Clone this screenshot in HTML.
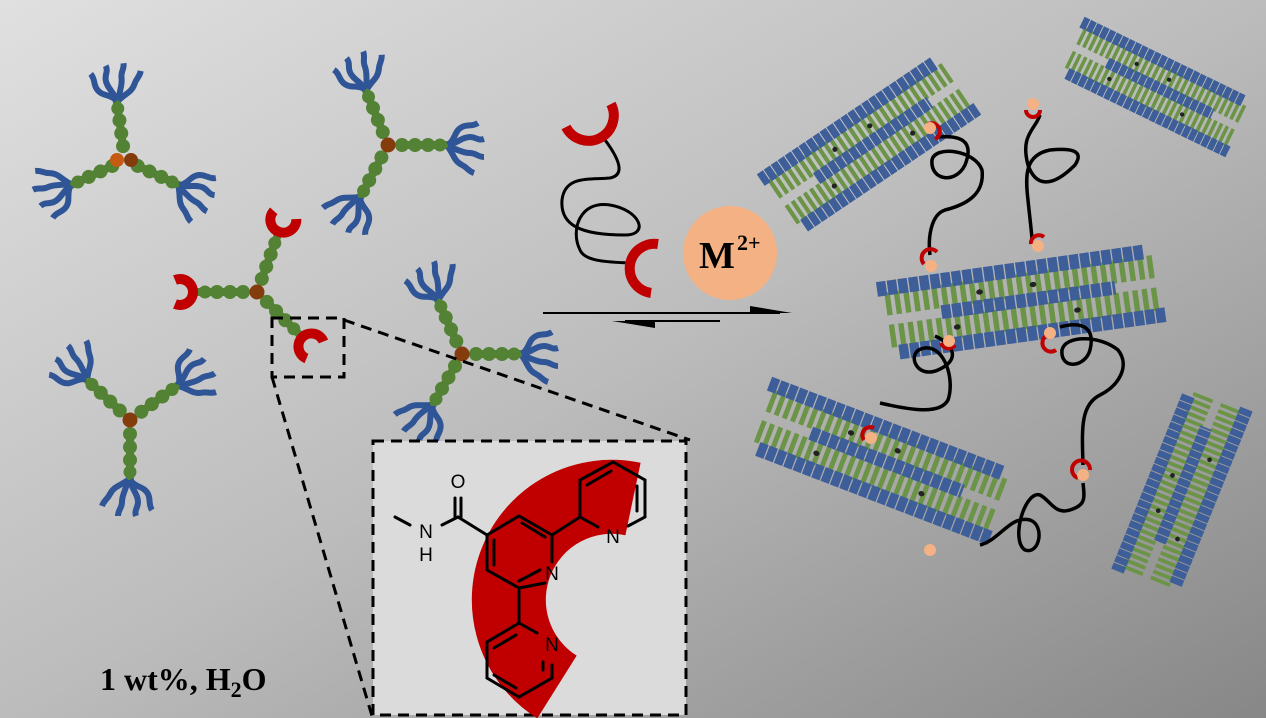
<!DOCTYPE html>
<html><head><meta charset="utf-8"><style>
html,body{margin:0;padding:0;}
body{width:1266px;height:718px;overflow:hidden;}
svg{display:block;}
</style></head><body>
<svg width="1266" height="718" viewBox="0 0 1266 718" xmlns="http://www.w3.org/2000/svg">
<defs>
<linearGradient id="bg" x1="0" y1="0" x2="1" y2="1">
<stop offset="0" stop-color="#e0e0e0"/>
<stop offset="0.5" stop-color="#bcbcbc"/>
<stop offset="1" stop-color="#878787"/>
</linearGradient>
<g id="dots">
<circle cx="14" cy="0" r="7" fill="#548235"/>
<circle cx="27" cy="0" r="7" fill="#548235"/>
<circle cx="40" cy="0" r="7" fill="#548235"/>
<circle cx="52" cy="0" r="6.5" fill="#548235"/>
<line x1="10" y1="0" x2="66" y2="0" stroke="#548235" stroke-width="8"/>
</g>
<g id="tuft" fill="none" stroke="#2f5597" stroke-width="6" stroke-linecap="butt">
<path d="M60,0 C68,-6 66,-14 74,-18 C80,-21 84,-18 90,-22"/>
<path d="M60,0 C70,-2 74,-8 82,-8 C88,-8 90,-4 96,-6"/>
<path d="M60,2 C70,4 74,8 82,8 C88,8 90,12 96,12"/>
<path d="M60,2 C66,10 66,16 74,20 C80,23 80,26 86,28"/>
</g>
<g id="arm"><use href="#dots"/><use href="#tuft"/></g>
<g id="cuparm"><use href="#dots"/>
<path d="M82,12 A13,13 0 1 1 82,-12" fill="none" stroke="#c00000" stroke-width="10"/></g>
<g id="fiber">
<line x1="-100" y1="-17" x2="100" y2="-17" stroke="#6b9446" stroke-width="22" stroke-dasharray="4 3"/>
<line x1="-100" y1="14" x2="100" y2="14" stroke="#6b9446" stroke-width="22" stroke-dasharray="4 3"/>
<line x1="-105" y1="-32" x2="95" y2="-32" stroke="#3d5e99" stroke-width="14" stroke-dasharray="7 1"/>
<line x1="-60" y1="-2" x2="70" y2="-2" stroke="#3d5e99" stroke-width="13" stroke-dasharray="7 1"/>
<line x1="-95" y1="30" x2="105" y2="30" stroke="#3d5e99" stroke-width="14" stroke-dasharray="7 1"/>
<circle cx="-30" cy="-16" r="2.5" fill="#222"/><circle cx="10" cy="-16" r="2.5" fill="#222"/>
<circle cx="40" cy="14" r="2.5" fill="#222"/><circle cx="-50" cy="14" r="2.5" fill="#222"/>
</g>
</defs>
<rect width="1266" height="718" fill="url(#bg)"/>

<!-- star 1 -->
<g transform="translate(125,160)">
<g transform="rotate(-98)"><use href="#arm"/></g>
<g transform="rotate(155)"><use href="#arm"/></g>
<g transform="rotate(25)"><use href="#arm"/></g>
<circle cx="-8" cy="0" r="7" fill="#c55a11"/><circle cx="6" cy="0" r="7" fill="#843c0c"/>
</g>
<!-- star 2 -->
<g transform="translate(388,145)">
<g transform="rotate(-112)"><use href="#arm"/></g>
<g transform="rotate(0)"><use href="#arm"/></g>
<g transform="rotate(118)"><use href="#arm"/></g>
<circle r="7.5" fill="#843c0c"/>
</g>
<!-- star red -->
<g transform="translate(257,292)">
<g transform="rotate(-70)"><use href="#cuparm"/></g>
<g transform="rotate(180)"><use href="#cuparm"/></g>
<g transform="rotate(45)"><use href="#cuparm"/></g>
<circle r="7.5" fill="#843c0c"/>
</g>
<!-- star 4 -->
<g transform="translate(130,420)">
<g transform="rotate(-137)"><use href="#arm"/></g>
<g transform="rotate(-36)"><use href="#arm"/></g>
<g transform="rotate(90)"><use href="#arm"/></g>
<circle r="7.5" fill="#843c0c"/>
</g>
<!-- star 5 -->
<g transform="translate(462,354)">
<g transform="rotate(-114)"><use href="#arm"/></g>
<g transform="rotate(0)"><use href="#arm"/></g>
<g transform="rotate(120)"><use href="#arm"/></g>
<circle r="7.5" fill="#843c0c"/>
</g>

<!-- zoom dashed -->
<g fill="none" stroke="#000" stroke-width="3" stroke-dasharray="11 7">
<rect x="272" y="318" width="72" height="59"/>
<line x1="344" y1="320" x2="690" y2="440"/>
<line x1="272" y1="377" x2="372" y2="716"/>
</g>
<rect x="373" y="441" width="313" height="274" fill="#dbdbdb" stroke="#000" stroke-width="3" stroke-dasharray="11 7"/>

<!-- inset -->
<path d="M633,499 A103,103 0 0 0 557,687" fill="none" stroke="#c00000" stroke-width="74"/>
<g stroke="#000" stroke-width="3" fill="none" stroke-linecap="round">
<polyline points="487,535 519,516 552,535"/>
<line x1="552" y1="535" x2="552" y2="562"/>
<polyline points="545,583 519,588 487,570 487,535"/>
<line x1="522" y1="523" x2="545" y2="537"/>
<line x1="494" y1="540" x2="494" y2="565"/>
<line x1="519" y1="581" x2="540" y2="570"/>
<line x1="552" y1="535" x2="580" y2="517"/>
<polyline points="580,517 580,480 613,462 645,480 645,517 628,526"/>
<line x1="580" y1="517" x2="598" y2="527"/>
<line x1="587" y1="485" x2="611" y2="471"/>
<line x1="637" y1="486" x2="637" y2="511"/>
<line x1="519" y1="588" x2="519" y2="623"/>
<polyline points="519,623 487,642 487,678 519,697 552,678 552,665"/>
<line x1="519" y1="623" x2="537" y2="633"/>
<line x1="494" y1="648" x2="516" y2="635"/>
<line x1="494" y1="675" x2="516" y2="688"/>
<line x1="543" y1="662" x2="543" y2="670"/>
<line x1="487" y1="535" x2="458" y2="517"/>
<line x1="455" y1="517" x2="455" y2="498"/><line x1="461" y1="517" x2="461" y2="498"/>
<line x1="458" y1="517" x2="442" y2="525"/>
<line x1="395" y1="517" x2="410" y2="525"/>
</g>
<g font-family="Liberation Sans, sans-serif" font-size="19" fill="#000" text-anchor="middle">
<text x="458" y="488">O</text>
<text x="426" y="538">N</text>
<text x="426" y="561">H</text>
<text x="552" y="580">N</text>
<text x="613" y="543">N</text>
<text x="552" y="651">N</text>
</g>

<!-- middle polymer -->
<path d="M605,140 C620,160 625,175 610,178 C590,180 565,175 562,200 C560,225 580,235 625,235 C650,235 640,210 610,205 C580,200 570,230 580,250 C585,262 610,262 630,263" fill="none" stroke="#000" stroke-width="3"/>
<path d="M611,104 A19,19 0 1 1 566,127" fill="none" stroke="#c00000" stroke-width="10"/>
<path d="M658,244 A22,22 0 1 0 651,293" fill="none" stroke="#c00000" stroke-width="10"/>
<circle cx="730" cy="253" r="47" fill="#f4b183"/>
<text x="699" y="268" font-family="Liberation Serif, serif" font-weight="bold" font-size="38">M</text>
<text x="737" y="250" font-family="Liberation Serif, serif" font-weight="bold" font-size="22">2+</text>
<!-- arrows -->
<line x1="543" y1="313" x2="780" y2="313" stroke="#000" stroke-width="2"/>
<path d="M750,306 L792,313 L750,313 Z" fill="#000"/>
<line x1="625" y1="321" x2="720" y2="321" stroke="#000" stroke-width="2"/>
<path d="M612,321 L655,321 L655,328 Z" fill="#000"/>

<!-- fibers -->
<g transform="translate(870,145) rotate(-34) scale(1.05,1)"><use href="#fiber"/></g>
<g transform="translate(1155,88) rotate(26) scale(0.9,0.85)"><use href="#fiber"/></g>
<g transform="translate(1022,303) rotate(-8) scale(1.35,1.05)"><use href="#fiber"/></g>
<g transform="translate(880,462) rotate(21) scale(1.25,1.05)"><use href="#fiber"/></g>
<g transform="translate(1183,490) rotate(-68) scale(0.95,0.95)"><use href="#fiber"/></g>

<!-- linker chains -->
<g fill="none" stroke="#000" stroke-width="3.5">
<path d="M936,137 C960,135 975,140 965,165 C955,185 930,180 932,160 C935,145 975,150 982,170 C985,195 965,205 945,210 C930,215 928,240 930,255"/>
<path d="M1040,115 C1035,130 1020,135 1028,165 C1035,185 1050,190 1075,165 C1085,150 1070,148 1050,150 C1025,155 1025,175 1028,200 C1030,220 1032,235 1032,240"/>
<path d="M935,336 C955,345 960,360 938,370 C915,380 905,350 925,348 C945,346 955,380 948,400 C940,415 910,410 880,403"/>
<path d="M1060,327 C1085,320 1095,330 1090,350 C1085,368 1060,370 1062,350 C1065,335 1100,335 1118,350 C1130,365 1120,385 1100,395 C1080,405 1082,430 1083,465"/>
<path d="M1083,483 C1085,500 1085,505 1070,510 C1055,515 1050,500 1040,495 C1025,490 1010,540 1025,550 C1040,555 1045,525 1030,520 C1010,515 1000,540 980,545"/>
</g>
<g fill="none" stroke="#c00000" stroke-width="4">
<path d="M928,124 A8,8 0 0 1 935,139"/>
<path d="M1026,110 A7,7 0 0 0 1040,110"/>
<path d="M924,264 A8,8 0 0 1 937,252"/>
<path d="M1031,244 A8,8 0 0 1 1044,237"/>
<path d="M941,343 A8,8 0 0 0 955,345"/>
<path d="M1046,336 A8,8 0 0 0 1056,350"/>
<path d="M864,440 A8,8 0 0 1 874,428"/>
<path d="M1078,478 A9,9 0 1 1 1090,470"/>
</g>
<g fill="#f4b183">
<circle cx="930" cy="128" r="6"/><circle cx="1033" cy="104" r="6"/>
<circle cx="931" cy="266" r="6"/><circle cx="1038" cy="246" r="6"/>
<circle cx="949" cy="341" r="6"/><circle cx="1050" cy="333" r="6"/>
<circle cx="871" cy="438" r="6"/><circle cx="1083" cy="475" r="6"/>
<circle cx="930" cy="550" r="6"/>
</g>

<text x="100" y="690" font-family="Liberation Serif, serif" font-weight="bold" font-size="32">1 wt%, H<tspan font-size="22" dy="7">2</tspan><tspan dy="-7">O</tspan></text>
</svg>
</body></html>
